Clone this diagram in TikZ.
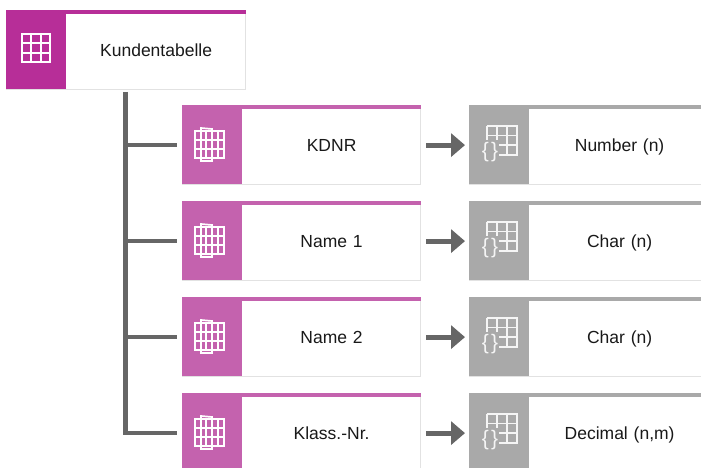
\documentclass[tikz,border=0pt]{standalone}
\usepackage{fontspec}
\setmainfont{Liberation Sans}
\usetikzlibrary{arrows.meta}
\definecolor{magA}{HTML}{B72E98}
\definecolor{magB}{HTML}{C462AE}
\definecolor{grayA}{HTML}{A9A9A9}
\definecolor{edgeC}{HTML}{E2E2E2}
\definecolor{lineC}{HTML}{666666}
\tikzset{
  x=1pt,y=-1pt,
  bodybox/.style={draw=edgeC,line width=1.2pt,fill=white,minimum height=79pt,anchor=north west,inner sep=0pt,text height=16pt,text depth=4pt,font=\fontsize{17.5}{20}\selectfont,text=black!90},
  tabbox/.style={bodybox,minimum width=239pt},
  attrbox/.style={bodybox,minimum width=238pt},
  typebox/.style={bodybox,minimum width=240pt},
  conn/.style={draw=lineC,line width=4.6pt},
  flow/.style={draw=lineC,line width=5pt,-{Triangle[length=14pt,width=23pt]}},
  gridline/.style={draw=white,line width=1.7pt},
  typeline/.style={draw=white!88!grayA,line width=1.5pt},
}
% #1 name, #2 x, #3 y, #4 style, #5 colour, #6 width of the text area, #7 text
\newcommand{\entity}[7]{%
  \node[#4,text width=#6pt,align=center] (#1) at (#2,#3) {\hspace*{60pt}#7};
  \fill[#5] (#2,#3) rectangle +(60,79);
  \fill[#5] (#2,#3) rectangle ([yshift=-4pt]#1.north east);
}
\newcommand{\plaingrid}[2]{%
  \draw[gridline,shift={(#1,#2)},line width=1.9pt] (0,0) rectangle (28,28)
    (0,9.3) -- (28,9.3) (0,18.6) -- (28,18.6) (9.3,0) -- (9.3,28) (18.6,0) -- (18.6,28);
}
\newcommand{\attrgrid}[2]{%
  \begin{scope}[shift={(#1,#2)}]
    \draw[gridline] (1,3) rectangle (30,30)
      (1,12) -- (30,12) (1,21) -- (30,21)
      (7,3) -- (7,30) (12,3) -- (12,30) (24,3) -- (24,30);
    \draw[gridline] (7,0) -- (18,1) -- (18,33) -- (7,33) -- cycle;
  \end{scope}
}
\newcommand{\typegrid}[2]{%
  \begin{scope}[shift={(#1,#2)}]
    \draw[typeline] (6,0) -- (36,0) -- (36,29) -- (18,29)
      (6,0) -- (6,14) (16,0) -- (16,14) (26,0) -- (26,29)
      (6,9.5) -- (36,9.5) (18,19) -- (36,19);
    \node[inner sep=0pt,text=white!88!grayA,font=\fontsize{21}{21}\selectfont] at (9,26) {\{\kern2pt\}};
  \end{scope}
}
\begin{document}
\begin{tikzpicture}
\useasboundingbox (0,0) rectangle (701,468);
\clip (0,0) rectangle (701,468);
\fill[white] (0,0) rectangle (701,468);
\entity{tab}{6}{10}{tabbox}{magA}{239}{Kundentabelle}
\plaingrid{22}{34}
\entity{a1}{182}{105}{attrbox}{magB}{238}{KDNR}
\entity{a2}{182}{201}{attrbox}{magB}{238}{Name 1}
\entity{a3}{182}{297}{attrbox}{magB}{238}{Name 2}
\entity{a4}{182}{393}{attrbox}{magB}{238}{Klass.-Nr.}
\attrgrid{194}{128}
\attrgrid{194}{224}
\attrgrid{194}{320}
\attrgrid{194}{416}
\entity{t1}{469}{105}{typebox}{grayA}{240}{Number (n)}
\entity{t2}{469}{201}{typebox}{grayA}{240}{Char (n)}
\entity{t3}{469}{297}{typebox}{grayA}{240}{Char (n)}
\entity{t4}{469}{393}{typebox}{grayA}{240}{Decimal (n,m)}
\typegrid{481}{126}
\typegrid{481}{222}
\typegrid{481}{318}
\typegrid{481}{414}
\coordinate (top) at (125.5,92);
\draw[conn,line join=miter] (top) -- (top |- a4.west) -- ([xshift=-5pt]a4.west);
\draw[conn] (top |- a1.west) -- ([xshift=-5pt]a1.west);
\draw[conn] (top |- a2.west) -- ([xshift=-5pt]a2.west);
\draw[conn] (top |- a3.west) -- ([xshift=-5pt]a3.west);
\draw[flow] ([xshift=5pt]a1.east) -- ([xshift=-4pt]t1.west);
\draw[flow] ([xshift=5pt]a2.east) -- ([xshift=-4pt]t2.west);
\draw[flow] ([xshift=5pt]a3.east) -- ([xshift=-4pt]t3.west);
\draw[flow] ([xshift=5pt]a4.east) -- ([xshift=-4pt]t4.west);
\end{tikzpicture}
\end{document}
